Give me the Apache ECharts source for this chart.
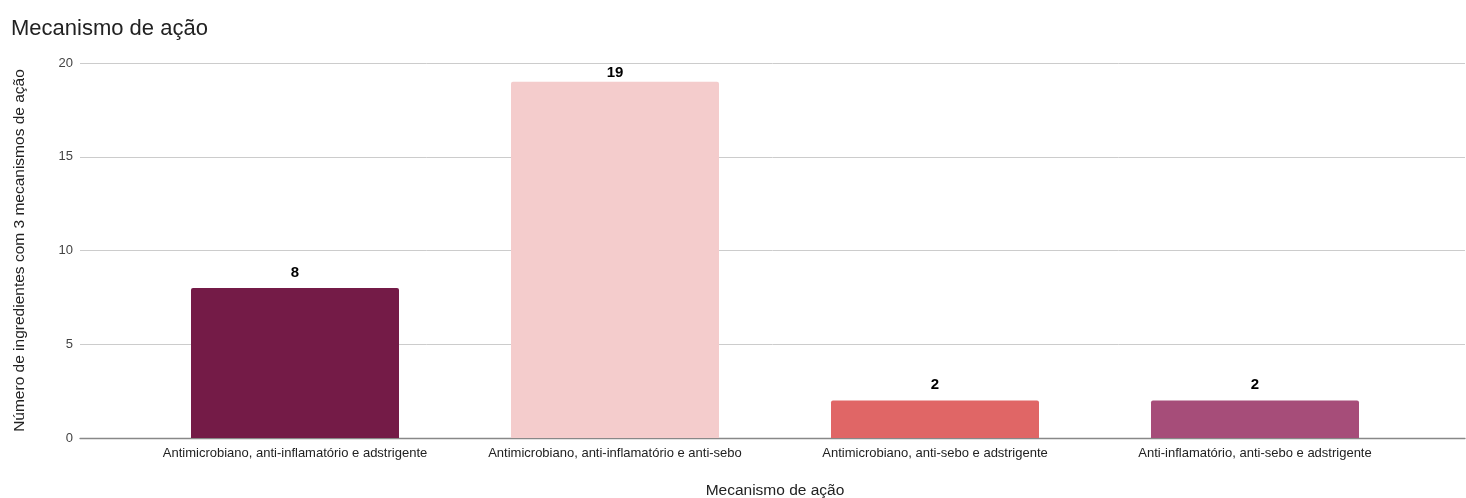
<!DOCTYPE html>
<html>
<head>
<meta charset="utf-8">
<script src="https://cdn.jsdelivr.net/npm/echarts@6/dist/echarts.min.js"></script>
<style>
  html, body { margin: 0; padding: 0; background: #ffffff; }
  #chart { width: 1466px; height: 498px; }
</style>
</head>
<body>
<div id="chart"></div>
<script>
// Mechanisms of action and number of ingredients for each
const categories = [
  'Antimicrobiano, anti-inflamatório e adstrigente',
  'Antimicrobiano, anti-inflamatório e anti-sebo',
  'Antimicrobiano, anti-sebo e adstrigente',
  'Anti-inflamatório, anti-sebo e adstrigente'
];
const values = [8, 19, 2, 2];
const barColors = ['#741b47', '#f4cccc', '#e06666', '#a64d79'];
const yTicks = { min: 0, max: 20, interval: 5 };

const font = 'Liberation Sans, Arial, sans-serif';
const chart = echarts.init(document.getElementById('chart'), null, { renderer: 'canvas' });

// value labels sit above each bar, but are pulled down near the top of the scale
function labelDistance(v) {
  return v > yTicks.max - 1.5 ? 1 : 8;
}

chart.setOption({
  animation: false,
  title: {
    text: 'Mecanismo de ação',
    left: 6,
    top: 13,
    textStyle: { fontFamily: font, fontSize: 22, fontWeight: 'normal', color: '#222222' }
  },
  // grid 0 carries the value scale and full-width gridlines; grid 1 holds the bars
  grid: [
    { left: 80, right: 1, top: 63, height: 375, outerBoundsMode: 'none', containLabel: false },
    { left: 135, width: 1280, top: 63, height: 375, outerBoundsMode: 'none', containLabel: false }
  ],
  xAxis: [
    {
      gridIndex: 0, type: 'value', min: 0, max: 1,
      axisLine: { show: true, onZero: false, lineStyle: { color: '#888888', width: 1.3 } },
      axisTick: { show: false }, axisLabel: { show: false }, splitLine: { show: false }
    },
    {
      gridIndex: 1, type: 'category', data: categories,
      axisLine: { show: false }, axisTick: { show: false },
      axisLabel: { fontFamily: font, fontSize: 13, color: '#222222', margin: 9, interval: 0 },
      name: 'Mecanismo de ação', nameLocation: 'middle', nameGap: 45,
      nameTextStyle: { fontFamily: font, fontSize: 15.5, color: '#222222' }
    }
  ],
  yAxis: [
    {
      gridIndex: 0, type: 'value', min: yTicks.min, max: yTicks.max, interval: yTicks.interval,
      axisLine: { show: false }, axisTick: { show: false },
      axisLabel: { fontFamily: font, fontSize: 13, color: '#444444', margin: 7 },
      splitLine: { lineStyle: { color: '#cccccc', width: 1 } },
      name: 'Número de ingredientes com 3 mecanismos de ação',
      nameLocation: 'middle', nameGap: 52, nameRotate: 90,
      nameTextStyle: { fontFamily: font, fontSize: 15.5, color: '#222222' }
    },
    {
      gridIndex: 1, type: 'value', min: yTicks.min, max: yTicks.max, show: false
    }
  ],
  series: [{
    type: 'bar',
    xAxisIndex: 1,
    yAxisIndex: 1,
    barWidth: 208,
    data: values.map((v, i) => ({
      value: v,
      itemStyle: { color: barColors[i] },
      label: { distance: labelDistance(v) }
    })),
    itemStyle: { borderRadius: [2, 2, 0, 0] },
    label: {
      show: true, position: 'top',
      fontFamily: font, fontSize: 15, fontWeight: 'bold', color: '#000000'
    }
  }]
});
</script>
</body>
</html>
